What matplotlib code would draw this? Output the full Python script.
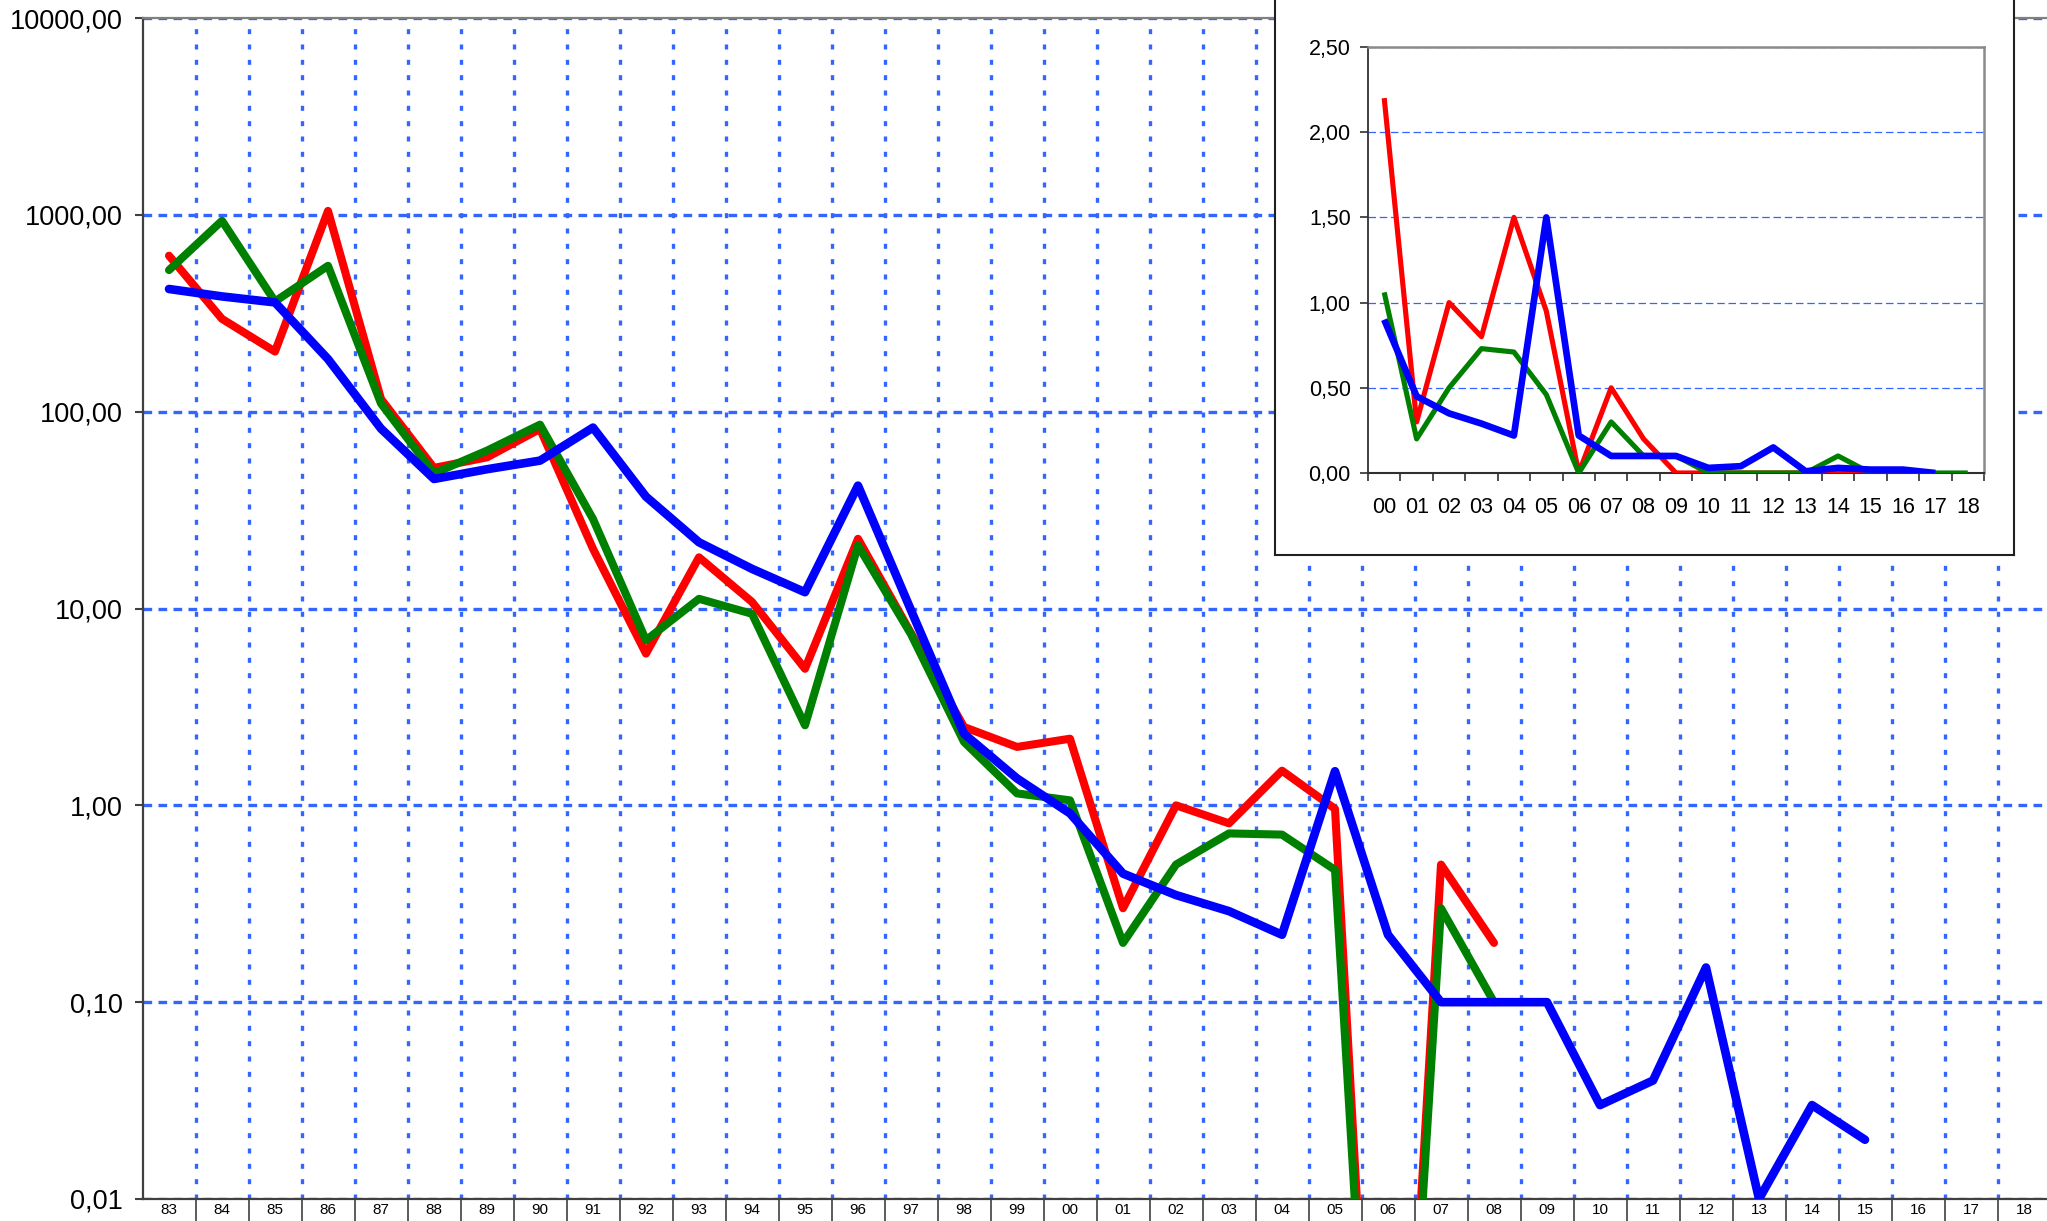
import numpy as np
import matplotlib
matplotlib.use("Agg")
import matplotlib.pyplot as plt
from matplotlib.ticker import NullLocator

plt.rcParams['font.family'] = ['Liberation Sans', 'DejaVu Sans']

# ---------------- data ----------------
years = ['83', '84', '85', '86', '87', '88', '89', '90', '91', '92', '93', '94',
         '95', '96', '97', '98', '99', '00', '01', '02', '03', '04', '05', '06',
         '07', '08', '09', '10', '11', '12', '13', '14', '15', '16', '17', '18']

red_main = [620, 296, 202, 1047, 116, 51.8, 58.6, 81.7, 20.1, 5.9, 18.2, 10.8,
            4.94, 22.6, 7.5, 2.5, 1.98, 2.18, 0.30, 1.0, 0.81, 1.5, 0.96, 0.0,
            0.5, 0.2]
green_main = [524, 933, 363, 551, 110, 48.6, 63.4, 85.9, 28.5, 6.9, 11.2, 9.4,
              2.55, 20.9, 7.4, 2.1, 1.15, 1.06, 0.20, 0.50, 0.72, 0.71, 0.47, 0.0,
              0.3, 0.1]
blue_main = [420, 385, 359, 185, 82, 45.5, 51, 56.4, 83, 37, 21.7, 15.9,
             12.1, 42.1, 9.8, 2.31, 1.37, 0.91, 0.45, 0.35, 0.29, 0.22, 1.49, 0.22,
             0.1, 0.1, 0.1, 0.03, 0.04, 0.15, 0.01, 0.03, 0.02]

inset_years = ['00', '01', '02', '03', '04', '05', '06', '07', '08', '09',
               '10', '11', '12', '13', '14', '15', '16', '17', '18']
red_inset = [2.2, 0.3, 1.0, 0.8, 1.5, 0.95, 0.0, 0.5, 0.2, 0.0, 0.0, 0.0,
             0.0, 0.0, 0.01, 0.0, 0.0]
green_inset = [1.06, 0.2, 0.5, 0.73, 0.71, 0.46, 0.0, 0.3, 0.1, 0.1, 0.0, 0.0,
               0.0, 0.0, 0.1, 0.0, 0.0, 0.0, 0.0]
blue_inset = [0.9, 0.45, 0.35, 0.29, 0.22, 1.5, 0.22, 0.1, 0.1, 0.1, 0.03, 0.04,
              0.15, 0.01, 0.03, 0.02, 0.02, 0.0]

y_ticks_main = [0.01, 0.1, 1, 10, 100, 1000, 10000]
y_labels_main = ['0,01', '0,10', '1,00', '10,00', '100,00', '1000,00', '10000,00']
y_ticks_inset = [0.0, 0.5, 1.0, 1.5, 2.0, 2.5]
y_labels_inset = ['0,00', '0,50', '1,00', '1,50', '2,00', '2,50']

# ---------------- style ----------------
W, H = 2047, 1221
GRID = '#3366ff'
RED, GREEN, BLUE = '#ff0000', '#008000', '#0000ff'
ZERO_FLOOR = 1.5e-5  # how a zero is drawn on the log axis (falls off the bottom)

fig = plt.figure(figsize=(W / 100, H / 100), dpi=100)

# ---------------- main chart ----------------
ax = fig.add_axes([142.5 / W, 22 / H, 1908 / W, 1181 / H])
ax.set_yscale('log')
ax.set_xlim(-0.5, len(years) - 0.5)
ax.set_ylim(0.01, 10000)

for vals, col, lw in [(red_main, RED, 5.8), (green_main, GREEN, 5.8), (blue_main, BLUE, 6.2)]:
    v = np.array(vals, dtype=float)
    v = np.where(v <= 0, ZERO_FLOOR, v)
    ax.plot(np.arange(len(v)), v, color=col, lw=lw,
            solid_joinstyle='round', solid_capstyle='round', zorder=3)

# x: boundaries as major ticks (grid + tick marks), centers as minor ticks (labels)
ax.set_xticks(np.arange(len(years) - 1) + 0.5)
ax.set_xticklabels([])
ax.set_xticks(np.arange(len(years)), minor=True)
ax.set_xticklabels(years, minor=True)
ax.tick_params(axis='x', which='major', length=17, width=1.2, color='#404040',
               direction='out')
ax.tick_params(axis='x', which='minor', length=0, pad=3, labelsize=11)

ax.set_yticks(y_ticks_main)
ax.set_yticklabels(y_labels_main)
ax.yaxis.set_minor_locator(NullLocator())
ax.tick_params(axis='y', which='major', length=6, width=1.5, color='#404040',
               pad=8, labelsize=19.5)

ax.grid(axis='x', which='major', color=GRID, lw=2.4, linestyle=(0, (1.5, 3.1)))
ax.grid(axis='y', which='major', color=GRID, lw=2.4, linestyle=(0, (2.6, 1.9)))
ax.set_axisbelow(True)

ax.spines['left'].set_color('#404040')
ax.spines['left'].set_linewidth(1.6)
ax.spines['bottom'].set_color('#404040')
ax.spines['bottom'].set_linewidth(1.6)
ax.spines['top'].set_color('#808080')
ax.spines['top'].set_linewidth(1.6)
ax.spines['right'].set_visible(False)

# ---------------- inset frame ----------------
box = fig.add_axes([1275 / W, (H - 555) / H, (2014 - 1275) / W, 555 / H + 0.05],
                   zorder=5)
box.set_facecolor('white')
box.set_xticks([])
box.set_yticks([])
for s in box.spines.values():
    s.set_color('#202020')
    s.set_linewidth(1.5)

# ---------------- inset chart ----------------
ia = fig.add_axes([1368 / W, (H - 473) / H, (1984 - 1368) / W, (473 - 47) / H],
                  zorder=6)
ia.set_xlim(-0.5, len(inset_years) - 0.5)
ia.set_ylim(0, 2.5)

for vals, col, lw in [(red_inset, RED, 3.7), (green_inset, GREEN, 3.7), (blue_inset, BLUE, 4.8)]:
    v = np.array(vals, dtype=float)
    ia.plot(np.arange(len(v)), v, color=col, lw=lw,
            solid_joinstyle='round', solid_capstyle='butt', zorder=3)

ia.set_xticks(np.arange(len(inset_years) + 1) - 0.5)
ia.set_xticklabels([])
ia.set_xticks(np.arange(len(inset_years)), minor=True)
ia.set_xticklabels(inset_years, minor=True)
ia.tick_params(axis='x', which='major', length=5.5, width=1.2, color='#303030',
               direction='out')
ia.tick_params(axis='x', which='minor', length=0, pad=17, labelsize=15.5)

ia.set_yticks(y_ticks_inset)
ia.set_yticklabels(y_labels_inset)
ia.tick_params(axis='y', which='major', length=5.5, width=1.2, color='#303030',
               pad=7, labelsize=15.5)

ia.grid(axis='y', which='major', color=GRID, lw=0.9, linestyle=(0, (6, 3)))
ia.set_axisbelow(True)

ia.spines['left'].set_color('#303030')
ia.spines['left'].set_linewidth(1.3)
ia.spines['bottom'].set_color('#303030')
ia.spines['bottom'].set_linewidth(1.5)
ia.spines['top'].set_color('#8a8a8a')
ia.spines['top'].set_linewidth(1.8)
ia.spines['right'].set_color('#8a8a8a')
ia.spines['right'].set_linewidth(1.8)

fig.savefig('out.png', dpi=100, facecolor='white')
